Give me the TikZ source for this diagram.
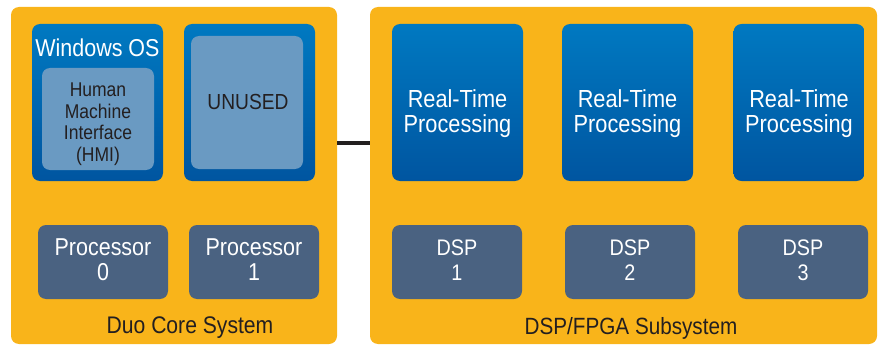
\documentclass[tikz,border=0pt]{standalone}
\usepackage{fontspec}
\setmainfont{Liberation Sans}[FakeStretch=0.88]
\usetikzlibrary{calc}
\definecolor{sysyellow}{HTML}{F9B41A}
\definecolor{bluetop}{HTML}{0079C1}
\definecolor{bluebot}{HTML}{0055A0}
\definecolor{paneblue}{HTML}{6A9AC2}
\definecolor{coreslate}{HTML}{4A6281}
\definecolor{inkdark}{HTML}{231F20}
\tikzset{
  sysbox/.style={fill=sysyellow, rounded corners=8pt, inner sep=0pt},
  osbox/.style={top color=bluetop, bottom color=bluebot, rounded corners=8pt, inner sep=0pt},
  panebox/.style={fill=paneblue, rounded corners=8pt, inner sep=0pt},
  corebox/.style={fill=coreslate, rounded corners=8pt, inner sep=0pt},
  whitetext/.style={text=white, align=center, inner sep=0pt},
  darktext/.style={text=inkdark, align=center, inner sep=0pt},
  link/.style={draw=inkdark, line width=4pt},
}
\begin{document}
\begin{tikzpicture}[x=1pt, y=-1pt]
\useasboundingbox (0,0) rectangle (879,345);
% subsystem backgrounds
\node[sysbox, minimum width=326pt, minimum height=337pt] (duo) at (174,175.5) {};
\node[sysbox, minimum width=507pt, minimum height=337pt] (fpga) at (623.5,175.5) {};
% link between the two subsystems
\coordinate (busy) at (0,143);
\draw[link] (duo.east |- busy) -- (fpga.west |- busy);
% Duo core system
\node[osbox, minimum width=131pt, minimum height=157pt] (win) at (97.5,102.5) {};
\node[panebox, minimum width=112pt, minimum height=102pt] (hmi) at (98,119) {};
\node[whitetext, font=\fontsize{24.4}{28}\selectfont] (wintxt) at (97.5,48) {Windows OS};
\node[darktext, font=\fontsize{19.9}{21.5}\selectfont] (hmitxt) at (98,124) {Human\\Machine\\Interface\\(HMI)};
\node[osbox, minimum width=131pt, minimum height=157pt] (unusedo) at (249.5,102.5) {};
\node[panebox, minimum width=112pt, minimum height=133pt] (unused) at (247,102.5) {};
\node[darktext, font=\fontsize{21.8}{26}\selectfont] (unusedtxt) at (248,102) {UNUSED};
\node[corebox, minimum width=130pt, minimum height=74pt] (p0) at (103,262) {};
\node[corebox, minimum width=130pt, minimum height=74pt] (p1) at (254,262) {};
\node[whitetext, font=\fontsize{24.4}{25}\selectfont] at (103,260) {Processor\\0};
\node[whitetext, font=\fontsize{24.4}{25}\selectfont] at (254,260) {Processor\\1};
\node[darktext, font=\fontsize{24}{28}\selectfont] (duotxt) at (190,328) {Duo Core System};
% DSP/FPGA subsystem
\foreach \i/\x/\dx in {1/457.5/457, 2/627.5/630, 3/799/803} {
  \node[osbox, minimum width=131pt, minimum height=157pt] (rt\i) at (\x,102.5) {};
  \node[whitetext, font=\fontsize{24.7}{25}\selectfont] at (\x,114) {Real-Time\\Processing};
  \node[corebox, minimum width=130pt, minimum height=74pt] (dsp\i) at (\dx,262) {};
  \node[whitetext, font=\fontsize{22.5}{25}\selectfont] at (\dx,260) {DSP\\\i};
}
\node[darktext, font=\fontsize{23.5}{28}\selectfont] (fpgatxt) at (631,328) {DSP/FPGA Subsystem};
\end{tikzpicture}
\end{document}
